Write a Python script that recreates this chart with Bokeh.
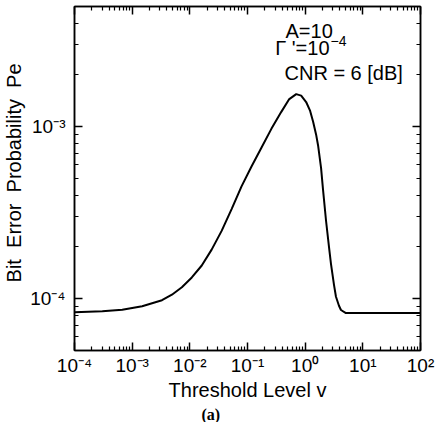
from bokeh.plotting import figure
from bokeh.models import LogAxis, FixedTicker, Label, Range1d, CustomJSTickFormatter, Title
from bokeh.embed import file_html
from bokeh.resources import INLINE

# ---- data ----
threshold = [1e-4, 3.04e-4, 6.73e-4, 1.49e-3, 3.29e-3, 4.89e-3, 7.28e-3, 1.082e-2, 1.61e-2, 2.39e-2,
             3.56e-2, 5.30e-2, 7.88e-2, 0.1173, 0.1743, 0.2594, 0.3857, 0.530, 0.700, 0.853,
             1.040, 1.220, 1.374, 1.549, 1.675, 1.888, 2.042, 2.301, 2.594, 2.806,
             3.162, 3.422, 3.857, 4.177, 5.09, 100]
pe = [8.35e-5, 8.45e-5, 8.62e-5, 9.05e-5, 9.8e-5, 1.055e-4, 1.165e-4, 1.33e-4, 1.56e-4, 1.93e-4,
      2.48e-4, 3.32e-4, 4.50e-4, 5.87e-4, 7.55e-4, 9.72e-4, 1.22e-3, 1.448e-3, 1.548e-3, 1.517e-3,
      1.392e-3, 1.236e-3, 1.068e-3, 8.99e-4, 7.78e-4, 5.74e-4, 4.29e-4, 2.84e-4, 1.99e-4, 1.589e-4,
      1.204e-4, 1.027e-4, 9.1e-5, 8.6e-5, 8.25e-5, 8.25e-5]

x_ticks = [1e-4, 1e-3, 1e-2, 1e-1, 1e0, 1e1, 1e2]
x_tick_labels = ["10\u207b\u2074", "10\u207b\u00b3", "10\u207b\u00b2", "10\u207b\u00b9",
                 "10\u2070", "10\u00b9", "10\u00b2"]
y_ticks = [1e-4, 1e-3]
y_tick_labels = ["10\u207b\u2074", "10\u207b\u00b3"]

x_lo, x_hi = 1e-4, 1e2
y_lo, y_hi = 5e-5, 5e-3

annot_lines = ["A=10", "\u0393 '=10", "CNR = 6 [dB]"]
annot_sup = "\u22124"

SANS = "Liberation Sans"

p = figure(width=436, height=422, x_axis_type="log", y_axis_type="log",
           x_range=Range1d(x_lo, x_hi), y_range=Range1d(y_lo, y_hi),
           output_backend="svg", toolbar_location=None,
           min_border_left=72, min_border_right=16, min_border_top=6, min_border_bottom=40)
p.grid.visible = False
p.outline_line_color = "black"
p.outline_line_width = 1.5
p.background_fill_color = None
p.border_fill_color = "white"

p.line(threshold, pe, line_color="black", line_width=2)

right_axis = LogAxis()
top_axis = LogAxis()
p.add_layout(right_axis, "right")
p.add_layout(top_axis, "above")
bottom_axis = p.below[0]
left_axis = p.left[0]

def minor(lo_exp, hi_exp):
    return [m * 10.0 ** k for k in range(lo_exp, hi_exp) for m in range(2, 10)]

x_minor = minor(-4, 2)
y_minor = minor(-5, -2)

fmt_code = """
let best = 0, bd = Infinity;
for (let i = 0; i < tvals.length; i++) {
  const d = Math.abs(Math.log10(tick) - Math.log10(tvals[i]));
  if (d < bd) { bd = d; best = i; }
}
return tlabels[best];
"""

for ax in (bottom_axis, top_axis):
    ax.ticker = FixedTicker(ticks=x_ticks, minor_ticks=x_minor)
for ax in (left_axis, right_axis):
    ax.ticker = FixedTicker(ticks=y_ticks, minor_ticks=y_minor)

for ax in (bottom_axis, top_axis, left_axis, right_axis):
    ax.major_tick_in = 8
    ax.major_tick_out = 0
    ax.minor_tick_in = 4
    ax.minor_tick_out = 0
    ax.axis_line_width = 1.5
    ax.axis_line_color = "black"
    ax.major_tick_line_width = 1.5
    ax.major_tick_line_color = "black"
    ax.minor_tick_line_width = 1.2
    ax.minor_tick_line_color = "black"
    ax.axis_label_text_font = SANS
    ax.axis_label_text_font_style = "normal"
    ax.axis_label_text_font_size = "20px"
    ax.axis_label_text_color = "black"
    ax.major_label_text_font = SANS
    ax.major_label_text_color = "black"

for ax in (top_axis, right_axis):
    ax.major_label_text_font_size = "1px"
    ax.major_label_text_alpha = 0
    ax.major_label_standoff = 0

bottom_axis.formatter = CustomJSTickFormatter(args=dict(tvals=x_ticks, tlabels=x_tick_labels), code=fmt_code)
left_axis.formatter = CustomJSTickFormatter(args=dict(tvals=y_ticks, tlabels=y_tick_labels), code=fmt_code)
bottom_axis.major_label_text_font_size = "19px"
left_axis.major_label_text_font_size = "19px"
bottom_axis.major_label_standoff = 4
left_axis.major_label_standoff = 9

bottom_axis.axis_label = "Threshold Level v"
bottom_axis.axis_label_standoff = 0
left_axis.axis_label = "\u00a0\u00a0Bit\u00a0 Error\u00a0 Probability\u00a0 Pe"
left_axis.axis_label_standoff = 2

# panel tag "(a)" below the axis title
p.add_layout(Title(text="(a)", align="left", offset=127, standoff=0,
                   text_font="Liberation Serif", text_font_style="bold",
                   text_font_size="16px", text_color="black"), "below")

# annotation block (inside the frame)
def lab(**kw):
    base = dict(text_font=SANS, text_color="black")
    base.update(kw)
    p.add_layout(Label(**base))

lab(x=x_hi, y=y_hi, text=annot_lines[0], x_offset=-135, y_offset=-24,
    text_align="left", text_baseline="middle", text_font_size="20px")
lab(x=x_hi, y=y_hi, text=annot_lines[1], x_offset=-91, y_offset=-41,
    text_align="right", text_baseline="middle", text_font_size="20px")
lab(x=x_hi, y=y_hi, text=annot_sup, x_offset=-90, y_offset=-34,
    text_align="left", text_baseline="middle", text_font_size="14px")
lab(x=x_hi, y=y_hi, text=annot_lines[2], x_offset=-136, y_offset=-66,
    text_align="left", text_baseline="middle", text_font_size="20px")

open("out.html", "w").write(file_html(p, INLINE))
